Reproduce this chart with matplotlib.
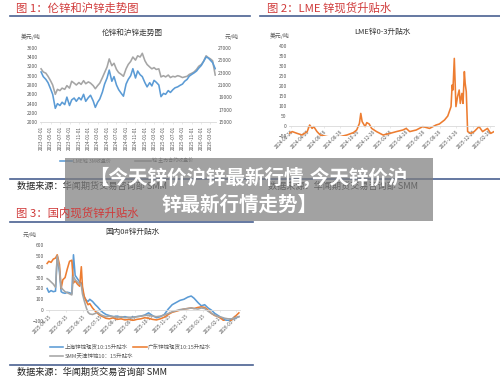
import matplotlib
matplotlib.use('Agg')
import matplotlib.pyplot as plt
from matplotlib.lines import Line2D
from matplotlib.patches import Rectangle
import pandas as pd

plt.rcParams['font.family'] = ['Noto Sans CJK SC', 'DejaVu Sans']

W, H = 500, 381

# --- chart 1: LME zinc 3M vs SHFE zinc main contract (semi-monthly, from 2023-03-01)
lme_3m = [3080, 2980, 2920, 2850, 2720, 2600, 2300, 2400, 2360, 2430, 2380, 2540, 2360, 2480,
          2520, 2450, 2530, 2480, 2600, 2450,
          2530, 2580, 2460, 2320, 2430, 2500, 2650, 2820, 2950, 3120, 2880, 2980, 2800, 2700,
          2620, 2560, 2820, 2920, 3000, 3150, 2950, 3100, 3020, 2980,
          2850, 2760, 2850, 2780, 2900, 2860, 2800, 2550, 2620, 2600, 2680, 2640, 2700, 2740,
          2760, 2790, 2820, 2880, 2920, 2990, 3030, 3060, 3100, 3160,
          3220, 3300, 3400, 3380, 3330, 3280, 3150]
shfe_main = [23600, 23100, 22900, 22400, 21700, 21000, 19500, 20300, 20100, 20500, 20300, 20900,
             20500, 21600, 21300, 21000, 21400, 21100, 21700, 21200,
             21500, 21300, 20900, 20400, 20900, 21300, 22200, 23000, 23900, 25200, 24100, 24500,
             23500, 23000, 22700, 22400, 23600, 24300, 24800, 25500, 25000, 25700, 25500, 26100,
             24900, 24300, 23900, 23600, 23800, 23500, 23600, 22300, 22500, 22300, 22600, 22200,
             22400, 22300, 22500, 22400, 22200, 22300, 22400, 22700, 22900, 23100, 23500, 24000,
             24300, 24800, 25700, 25400, 25200, 24900, 22600]
dates1 = pd.date_range('2023-03-01', periods=len(lme_3m), freq='SMS')
ticks1 = pd.date_range('2023-03-01', '2026-03-01', freq='2MS')

# --- chart 2: LME zinc cash-3M spread
spread_dates = ['2024-02-19', '2024-03-02', '2024-03-20', '2024-04-07', '2024-04-26', '2024-05-05',
                '2024-05-14', '2024-05-20', '2024-06-01', '2024-06-13', '2024-07-08', '2024-08-01',
                '2024-08-25', '2024-09-19', '2024-10-13', '2024-10-25', '2024-11-04', '2024-11-09',
                '2024-11-14', '2024-11-25', '2024-12-01', '2024-12-10', '2024-12-19', '2025-01-06',
                '2025-01-30', '2025-02-24', '2025-03-20', '2025-04-13', '2025-04-25', '2025-05-08',
                '2025-06-01', '2025-06-25', '2025-07-20', '2025-08-13', '2025-08-25', '2025-09-13',
                '2025-09-25', '2025-10-07', '2025-10-11', '2025-10-14', '2025-10-19', '2025-10-25',
                '2025-10-31', '2025-11-06', '2025-11-10', '2025-11-16', '2025-11-20', '2025-11-25',
                '2025-11-28', '2025-12-02', '2025-12-07', '2025-12-19', '2025-12-31', '2026-01-18',
                '2026-01-31', '2026-02-18', '2026-03-02', '2026-03-14']
spread_vals = [-37, -28, -37, -45, -28, 5, -12, -3, -28, -45, -53, -57,
               -53, -45, -33, -20, 13, 63, 22, -3, 17, 10, -12, -28,
               -45, -37, -28, -20, -12, -28, -20, -3, -12, 5, 10, 30,
               50, 97, 205, 180, 338, 97, 147, 180, 113, 163, 113, 272,
               213, 172, -28, -37, -28, -3, -28, -12, -37, -28]
ticks2 = pd.date_range('2024-02-26', periods=13, freq=pd.DateOffset(months=2))

# --- chart 3: domestic 0# zinc spot premiums
dates3 = ['2025-04-12', '2025-04-15', '2025-04-19', '2025-04-23', '2025-04-27', '2025-04-30',
          '2025-05-04', '2025-05-07', '2025-05-10', '2025-05-14', '2025-05-18', '2025-05-22',
          '2025-05-26', '2025-05-29', '2025-06-01', '2025-06-05', '2025-06-09', '2025-06-12',
          '2025-06-14', '2025-06-17', '2025-06-21', '2025-06-24', '2025-06-27', '2025-07-02',
          '2025-07-07', '2025-07-11', '2025-07-16', '2025-07-20', '2025-07-26', '2025-08-01',
          '2025-08-08', '2025-08-15', '2025-08-22', '2025-08-29', '2025-09-05', '2025-09-12',
          '2025-09-19', '2025-09-26', '2025-10-03', '2025-10-10', '2025-10-17', '2025-10-24',
          '2025-10-31', '2025-11-07', '2025-11-14', '2025-11-21', '2025-11-28', '2025-12-05',
          '2025-12-12', '2025-12-19', '2025-12-25', '2025-12-30', '2026-01-06', '2026-01-12',
          '2026-01-18', '2026-01-24', '2026-01-30', '2026-02-05', '2026-02-11', '2026-02-17',
          '2026-02-23', '2026-03-01', '2026-03-07', '2026-03-13', '2026-03-20']
shanghai = [200, 165, 180, 170, 175, 500, 350, 170, 160, 155, 165, 160,
            150, 510, 320, 290, 260, 250, 190, 120, 90, 80, 100, 80,
            50, 30, 0, -20, -40, -50, -60, -55, -65, -60, -70, -65,
            -60, -55, -45, -25, -50, -70, -60, -40, 10, 50, 70, 90,
            100, 120, 130, 110, 70, 40, 50, 20, 0, -30, -50, -70,
            -90, -95, -85, -75, -60]
guangdong = [430, 450, 440, 470, 480, 510, 420, 200, 280, 300, 380, 450,
             460, 250, 270, 240, 220, 400, 220, 130, 80, 50, 60, 20,
             -10, -30, -50, -60, -75, -80, -70, -85, -80, -90, -85, -95,
             -85, -80, -70, -75, -85, -90, -80, -65, -40, -20, -10, 0,
             10, 15, 20, 15, 25, 30, 25, 0, -30, -50, -60, -80,
             -105, -115, -90, -60, -25]
tianjin = [290, 280, 260, 240, 210, 500, 380, 210, 190, 170, 160, 150,
           140, 310, 280, 260, 240, 230, 150, 90, 20, -20, -35, -40,
           -30, -20, -40, -50, -60, -55, -60, -65, -60, -70, -65, -70,
           -60, -55, -50, -45, -55, -60, -55, -45, -30, -15, -5, 5,
           10, 15, 20, 15, 10, 20, 15, -10, -30, -45, -60, -65,
           -75, -80, -80, -70, -60]
ticks3 = pd.date_range('2025-04-15', periods=12, freq=pd.DateOffset(months=1))

BLUE = '#5B9BD5'
ORANGE = '#ED7D31'
GRAY = '#A5A5A5'
TICK = '#595959'
RED = '#D03A3A'
RULE = '#4A6191'
LW = 1.15


def px_axes(fig, x0, y0, x1, y1):
    return fig.add_axes([x0 / W, 1 - y1 / H, (x1 - x0) / W, (y1 - y0) / H])


def ftext(fig, x, y, s, **kw):
    kw.setdefault('va', 'center')
    return fig.text(x / W, 1 - y / H, s, **kw)


def hline(fig, x0, x1, y, **kw):
    fig.add_artist(Line2D([x0 / W, x1 / W], [1 - y / H, 1 - y / H],
                          transform=fig.transFigure, **kw))


def style_axes(ax):
    ax.set_facecolor('none')
    for side in ['top', 'left', 'right']:
        ax.spines[side].set_visible(False)
    ax.spines['bottom'].set_color('#D9D9D9')
    ax.spines['bottom'].set_linewidth(0.6)
    ax.tick_params(axis='y', length=0, labelsize=3.6, colors=TICK, pad=1.5)
    ax.tick_params(axis='x', length=1.5, width=0.4, color='#D9D9D9', labelsize=3.4,
                   labelcolor=TICK, pad=1)


fig = plt.figure(figsize=(5, 3.81), dpi=100)
fig.patch.set_facecolor('white')

# ---------- chart 1
ax1 = px_axes(fig, 40, 47.7, 216, 122.3)
style_axes(ax1)
ax1.plot(dates1, lme_3m, color=BLUE, lw=LW)
ax1.set_ylim(2000, 3600)
ax1.set_yticks(range(2000, 3601, 200))
ax1.set_xlim(pd.Timestamp('2023-02-22'), pd.Timestamp('2026-04-06'))
ax1.set_xticks(ticks1)
ax1.set_xticklabels([d.strftime('%Y-%m-%d') for d in ticks1], rotation=90)
ax1r = ax1.twinx()
ax1r.set_facecolor('none')
for side in ['top', 'left', 'right', 'bottom']:
    ax1r.spines[side].set_visible(False)
ax1r.plot(dates1, shfe_main, color=GRAY, lw=LW)
ax1r.set_ylim(15000, 27000)
ax1r.set_yticks(range(15000, 27001, 2000))
ax1r.tick_params(axis='y', length=0, labelsize=3.6, colors=TICK, pad=1.5)
ax1.set_zorder(ax1r.get_zorder() + 1)

ftext(fig, 132, 33, '伦锌和沪锌走势图', ha='center', fontsize=5.5, color='#333333')
ftext(fig, 21, 36.5, '美元/吨', fontsize=4.2, color=TICK)
ftext(fig, 225, 36.5, '元/吨', fontsize=4.2, color=TICK)
hline(fig, 60, 72, 161, color=BLUE, lw=LW)
ftext(fig, 73, 161, 'LME锌 3M收盘价', fontsize=3.6, color=TICK)
hline(fig, 135, 151, 161, color=GRAY, lw=LW)
ftext(fig, 152, 161, '锌 主力合约收盘价', fontsize=3.6, color=TICK)

# ---------- chart 2
ax2 = px_axes(fig, 289, 46, 494, 136)
style_axes(ax2)
ax2.spines['bottom'].set_position(('data', 0))
ax2.plot(pd.to_datetime(spread_dates), spread_vals, color=ORANGE, lw=LW)
ax2.set_ylim(-50, 400)
ax2.set_yticks(range(-50, 401, 50))
ax2.set_xlim(pd.Timestamp('2024-02-19'), pd.Timestamp('2026-03-14'))
ax2.set_xticks(ticks2)
ax2.set_xticklabels([d.strftime('%Y-%m-%d') for d in ticks2], rotation=45,
                    ha='right', rotation_mode='anchor')
ftext(fig, 382, 32, 'LME锌0-3升贴水', ha='center', fontsize=5.5, color='#333333')
ftext(fig, 270, 36, '美元/吨', fontsize=4.2, color=TICK)

# ---------- chart 3
ax3 = px_axes(fig, 46, 245, 240, 321)
style_axes(ax3)
ax3.spines['bottom'].set_position(('data', 0))
d3 = pd.to_datetime(dates3)
ax3.plot(d3, shanghai, color=BLUE, lw=LW)
ax3.plot(d3, guangdong, color=ORANGE, lw=LW)
ax3.plot(d3, tianjin, color=GRAY, lw=LW)
ax3.set_ylim(-100, 600)
ax3.set_yticks(range(-100, 601, 100))
ax3.set_xlim(pd.Timestamp('2025-04-10'), pd.Timestamp('2026-03-22'))
ax3.set_xticks(ticks3)
ax3.set_xticklabels([d.strftime('%Y-%m-%d') for d in ticks3], rotation=45,
                    ha='right', rotation_mode='anchor')
ftext(fig, 132, 232, '国内0#锌升贴水', ha='center', fontsize=5.5, color='#333333')
ftext(fig, 23, 235, '元/吨', fontsize=4.2, color=TICK)
hline(fig, 50, 63, 347, color=BLUE, lw=LW)
ftext(fig, 65, 347, '上海锌锭现货10:15升贴水', fontsize=4.0, color=TICK)
hline(fig, 133, 147, 347, color=ORANGE, lw=LW)
ftext(fig, 148, 347, '广东锌锭现货10:15升贴水', fontsize=4.0, color=TICK)
hline(fig, 50, 63, 356, color=GRAY, lw=LW)
ftext(fig, 65, 356, 'SMM天津锌锭10：15升贴水', fontsize=4.0, color=TICK)

# ---------- page furniture
ftext(fig, 16, 8, '图 1：伦锌和沪锌走势图', fontsize=8.2, color=RED)
ftext(fig, 267, 8, '图 2：LME 锌现货升贴水', fontsize=8.2, color=RED)
hline(fig, 10, 250, 15.5, color=RULE, lw=1.2)
hline(fig, 260, 500, 15.5, color=RULE, lw=1.2)
hline(fig, 10, 250, 179, color=RULE, lw=1.2)
hline(fig, 260, 500, 179, color=RULE, lw=1.2)
ftext(fig, 17, 186, '数据来源：华闻期货交易咨询部 SMM', fontsize=6.6, color='#222222')
ftext(fig, 268, 186, '数据来源：华闻期货交易咨询部 SMM', fontsize=6.6, color='#222222')

fig.add_artist(Rectangle((65 / W, 1 - 221 / H), (433 - 65) / W, (221 - 158) / H,
                         transform=fig.transFigure, facecolor='#7F7F7F', alpha=0.72,
                         edgecolor='none', zorder=10))
ftext(fig, 248, 177, '【今天锌价沪锌最新行情,今天锌价沪', ha='center', fontsize=14,
      fontweight='bold', color='white', zorder=11)
ftext(fig, 240, 205, '锌最新行情走势】', ha='center', fontsize=14,
      fontweight='bold', color='white', zorder=11)

ftext(fig, 16, 213, '图 3：国内现货锌升贴水', fontsize=8.2, color=RED, zorder=12)
hline(fig, 10, 253, 222, color=RULE, lw=1.2, zorder=12)
hline(fig, 10, 253, 365, color=RULE, lw=1.2)
ftext(fig, 17, 372, '数据来源：华闻期货交易咨询部 SMM', fontsize=6.6, color='#222222')

fig.savefig('out.png', dpi=100)
